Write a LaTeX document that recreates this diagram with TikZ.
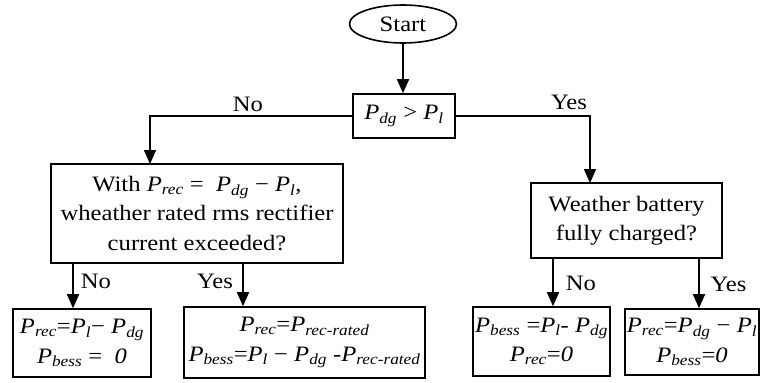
\documentclass[tikz,border=0pt]{standalone}
\usepackage{fontspec}
\setmainfont{Liberation Serif}[FakeStretch=1.12]
\usetikzlibrary{arrows.meta,shapes.geometric}
\newcommand{\PS}[1]{\textit{P}\textsubscript{\textit{#1}}}
\begin{document}
\begin{tikzpicture}[x=1pt,y=-1pt,
  box/.style={draw,line width=1.6pt,inner sep=0pt,align=center,font=\fontsize{22}{29.5}\selectfont},
  lbl/.style={inner sep=0pt,font=\fontsize{22}{24}\selectfont},
  arr/.style={line width=1.6pt,-{Triangle[width=12pt,length=14pt]}}]
\useasboundingbox[fill=white] (0,0) rectangle (761,383);
% nodes
\node[box,ellipse,minimum width=107pt,minimum height=38pt] (start) at (403,24) {Start};
\node[box,minimum width=102pt,minimum height=44pt] (dec) at (404,116) {\PS{dg} > \PS{l}};
\node[box,minimum width=292pt,minimum height=99pt] (lb) at (197,213.5)
  {With \PS{rec} = \ \PS{dg} − \PS{l},\\ wheather rated rms rectifier\\ current exceeded?};
\node[box,minimum width=191pt,minimum height=75pt] (wb) at (626.5,220.5)
  {Weather battery\\ fully charged?};
\node[box,minimum width=138pt,minimum height=68pt] (b1) at (82,343)
  {\PS{rec}=\PS{l}− \PS{dg}\\ \PS{bess} = \ \textit{0}};
\node[box,minimum width=241pt,minimum height=71pt] (b2) at (304.5,342.5)
  {\PS{rec}=\PS{rec-rated}\\ \PS{bess}=\PS{l} − \PS{dg} -\PS{rec-rated}};
\node[box,minimum width=137pt,minimum height=69pt] (b3) at (541.5,341.5)
  {\PS{bess} =\PS{l}- \PS{dg}\\ \PS{rec}=\textit{0}};
\node[box,minimum width=134pt,minimum height=66pt] (b4) at (692,342)
  {\PS{rec}=\PS{dg} − \PS{l}\\ \PS{bess}=\textit{0}};
% labels
\node[lbl] (no1) at (248,104) {No};
\node[lbl] (yes1) at (569,102.5) {Yes};
\node[lbl] (no2) at (96,281.5) {No};
\node[lbl] (yes2) at (215,281.5) {Yes};
\node[lbl] (no3) at (581,283.5) {No};
\node[lbl] (yes3) at (728.5,284) {Yes};
% helper coordinates
\coordinate (lin) at (150,164);
\coordinate (rin) at (590,183);
\coordinate (o1) at (73,263);
\coordinate (o2) at (243,263);
\coordinate (o3) at (553,258);
\coordinate (o4) at (699,258);
% connectors
\draw[arr] (start.south) -- (start.south |- dec.north);
\draw[arr] (dec.west) -| (lin);
\draw[arr] (dec.east) -| (rin);
\draw[arr] (o1) -- (o1 |- b1.north);
\draw[arr] (o2) -- (o2 |- b2.north);
\draw[arr] (o3) -- (o3 |- b3.north);
\draw[arr] (o4) -- (o4 |- b4.north);
\end{tikzpicture}
\end{document}
